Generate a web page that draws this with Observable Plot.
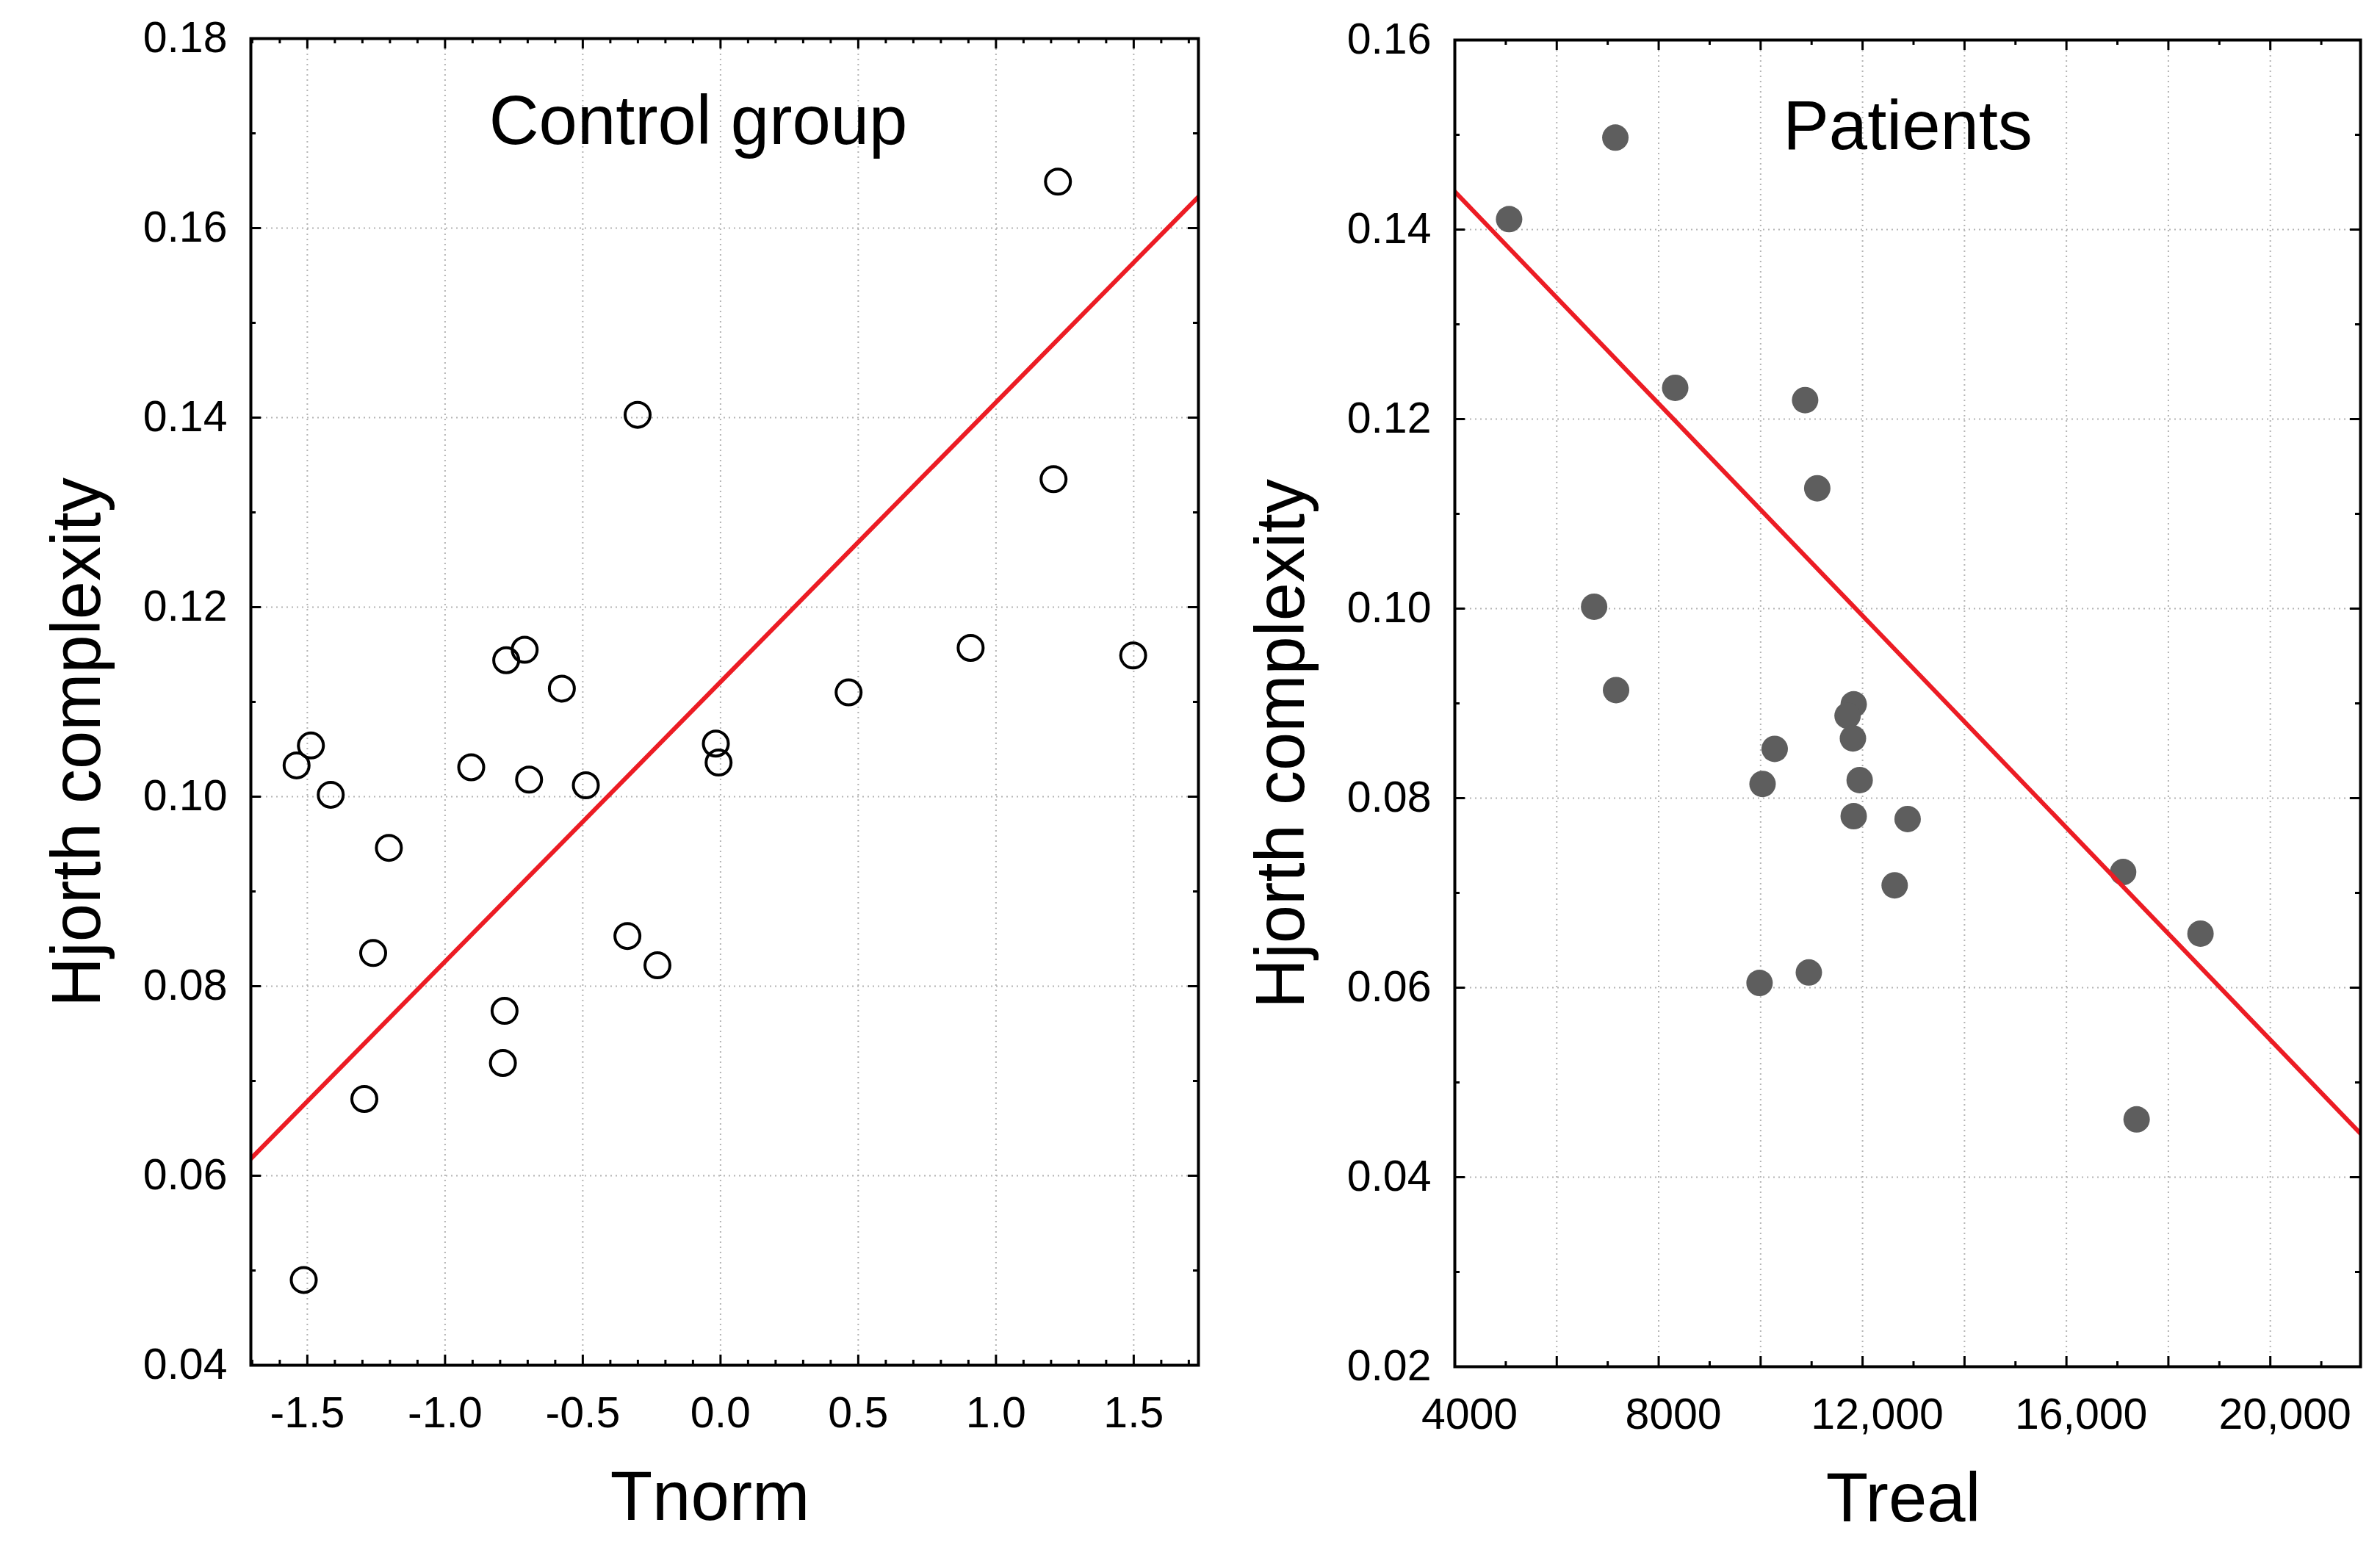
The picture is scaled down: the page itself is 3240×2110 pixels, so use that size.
<!DOCTYPE html>
<html><head><meta charset="utf-8">
<script src="https://cdn.jsdelivr.net/npm/d3@7"></script>
<script src="https://cdn.jsdelivr.net/npm/@observablehq/plot@0.6"></script>
<style>
html,body{margin:0;padding:0;background:#fff;}
#wrap{position:relative;width:3240px;height:2110px;overflow:hidden;background:#fff;}
#left,#right{position:absolute;top:0;}
#left{left:0;}
#right{left:1650px;}
</style></head>
<body><div id="wrap"><div id="left"></div><div id="right"></div></div>
<script>
// ---- Control group ----
const controlTnorm  = [1.225, -0.301, 1.209, -0.711, -0.778, 0.908, 1.498, -0.576, 0.465, -1.487, -1.539, -0.905, -0.695, -0.489, -0.017, -0.007, -1.415, -1.204, -1.261, -0.338, -0.229, -0.784, -0.790, -1.293, -1.513];
const controlHjorth = [0.1649, 0.1403, 0.1335, 0.1155, 0.1144, 0.1157, 0.1149, 0.1114, 0.1110, 0.1054, 0.1033, 0.1031, 0.1018, 0.1012, 0.1056, 0.1036, 0.1002, 0.0946, 0.0835, 0.0853, 0.0822, 0.0774, 0.0719, 0.0681, 0.0490];
const controlFitX = [-1.705, 1.735];
const controlFitY = [0.0618, 0.1633];
const controlXTicks = [-1.5, -1.0, -0.5, 0.0, 0.5, 1.0, 1.5];
const controlXMinor = [-1.7,-1.6,-1.4,-1.3,-1.2,-1.1,-0.9,-0.8,-0.7,-0.6,-0.4,-0.3,-0.2,-0.1,0.1,0.2,0.3,0.4,0.6,0.7,0.8,0.9,1.1,1.2,1.3,1.4,1.6,1.7];
const controlYTicks = [0.04, 0.06, 0.08, 0.10, 0.12, 0.14, 0.16, 0.18];
const controlYMinor = [0.05, 0.07, 0.09, 0.11, 0.13, 0.15, 0.17];

// ---- Patients ----
const patientTreal  = [7150, 5065, 8324, 10873, 11111, 6733, 7164, 11826, 11706, 11811, 10276, 10038, 11943, 11826, 12884, 12630, 9979, 10946, 17112, 18630, 17377];
const patientHjorth = [0.1497, 0.1411, 0.1233, 0.1220, 0.1127, 0.1002, 0.0914, 0.0899, 0.0887, 0.0863, 0.0852, 0.0815, 0.0819, 0.0781, 0.0778, 0.0708, 0.0605, 0.0616, 0.0722, 0.0657, 0.0461];
const patientFitX = [4000, 21770];
const patientFitY = [0.1440, 0.0446];
const patientXTicks = [4000, 8000, 12000, 16000, 20000];
const patientXTickLabels = ["4000", "8000", "12,000", "16,000", "20,000"];
const patientXGrid = [6000, 8000, 10000, 12000, 14000, 16000, 18000, 20000];
const patientXMinor = [5000, 7000, 9000, 11000, 13000, 15000, 17000, 19000, 21000];
const patientYTicks = [0.02, 0.04, 0.06, 0.08, 0.10, 0.12, 0.14, 0.16];
const patientYMinor = [0.03, 0.05, 0.07, 0.09, 0.11, 0.13, 0.15];

const FONT = '"Liberation Sans", Arial, "DejaVu Sans", sans-serif';
const GRID = {stroke: "#b4b4b4", strokeOpacity: 1, strokeWidth: 2, strokeDasharray: "2,5"};

function panel(c) {
  const W = c.width - c.ml - c.mr;
  const H = c.height - c.mt - c.mb;
  const majorLen = 14, minorLen = 7;
  const tk = {stroke: "black", strokeWidth: 3};
  return Plot.plot({
    width: c.width, height: c.height,
    marginLeft: c.ml, marginRight: c.mr, marginTop: c.mt, marginBottom: c.mb,
    style: {fontFamily: FONT, color: "black", background: "white", overflow: "visible"},
    x: {domain: c.xDomain, axis: null},
    y: {domain: c.yDomain, axis: null},
    marks: [
      Plot.gridX(c.xGrid, GRID),
      Plot.gridY(c.yGrid, GRID),
      Plot.dot(c.xs, {x: c.xs, y: c.ys, r: c.r, ...c.dotStyle}),
      Plot.line(c.fitX, {x: c.fitX, y: c.fitY, stroke: "#ec1c24", strokeWidth: 6, clip: true}),
      // inward ticks on all four sides
      Plot.tickX(c.xMajor, {x: d => d, insetTop: H - majorLen, ...tk}),
      Plot.tickX(c.xMajor, {x: d => d, insetBottom: H - majorLen, ...tk}),
      Plot.tickX(c.xMinor, {x: d => d, insetTop: H - minorLen, ...tk}),
      Plot.tickX(c.xMinor, {x: d => d, insetBottom: H - minorLen, ...tk}),
      Plot.tickY(c.yGrid, {y: d => d, insetRight: W - majorLen, ...tk}),
      Plot.tickY(c.yGrid, {y: d => d, insetLeft: W - majorLen, ...tk}),
      Plot.tickY(c.yMinor, {y: d => d, insetRight: W - minorLen, ...tk}),
      Plot.tickY(c.yMinor, {y: d => d, insetLeft: W - minorLen, ...tk}),
      Plot.frame({stroke: "black", strokeWidth: 4}),
      Plot.axisX(c.xTicks, {tickSize: 0, tickPadding: 43, fontSize: 59, tickFormat: c.xFormat, label: null, dx: c.xLabelDx}),
      Plot.axisY(c.yTicks, {tickSize: 0, tickPadding: 32, fontSize: 59, tickFormat: d => d.toFixed(2), label: null}),
      Plot.text([c.title], {text: d => d, frameAnchor: "top", textAnchor: "middle", lineAnchor: "bottom", dx: c.titleDx, dy: c.titleDy, fontSize: 94}),
      Plot.text([c.xLabel], {text: d => d, frameAnchor: "bottom", textAnchor: "middle", lineAnchor: "bottom", dx: c.xTitleDx, dy: 210, fontSize: 94}),
      Plot.text([c.yLabel], {text: d => d, frameAnchor: "left", textAnchor: "middle", lineAnchor: "bottom", rotate: -90, dx: -206, dy: 55, fontSize: 94})
    ]
  });
}

document.getElementById("left").append(panel({
  width: 1650, height: 2110, ml: 341, mr: 19, mt: 52, mb: 252,
  xDomain: [-1.705, 1.735], yDomain: [0.04, 0.18],
  xs: controlTnorm, ys: controlHjorth,
  r: 17, dotStyle: {stroke: "black", strokeWidth: 4, fill: "none"},
  fitX: controlFitX, fitY: controlFitY,
  xGrid: controlXTicks, xMajor: controlXTicks, xMinor: controlXMinor,
  yGrid: controlYTicks.slice(1, -1), yMinor: controlYMinor,
  xTicks: controlXTicks, xFormat: d => d.toFixed(1), xLabelDx: 0,
  yTicks: controlYTicks,
  title: "Control group", titleDx: -36, titleDy: 143,
  xLabel: "Tnorm", xTitleDx: -20, yLabel: "Hjorth complexity"
}));

document.getElementById("right").append(panel({
  width: 1590, height: 2110, ml: 330, mr: 27, mt: 54, mb: 250,
  xDomain: [4000, 21770], yDomain: [0.02, 0.16],
  xs: patientTreal, ys: patientHjorth,
  r: 18, dotStyle: {fill: "#5e5e5e", stroke: "none"},
  fitX: patientFitX, fitY: patientFitY,
  xGrid: patientXGrid, xMajor: patientXGrid, xMinor: patientXMinor,
  yGrid: patientYTicks.slice(1, -1), yMinor: patientYMinor,
  xTicks: patientXTicks, xFormat: d => patientXTickLabels[patientXTicks.indexOf(d)], xLabelDx: 20,
  yTicks: patientYTicks,
  title: "Patients", titleDx: 0, titleDy: 148,
  xLabel: "Treal", xTitleDx: -6, yLabel: "Hjorth complexity"
}));
</script>
</body></html>
